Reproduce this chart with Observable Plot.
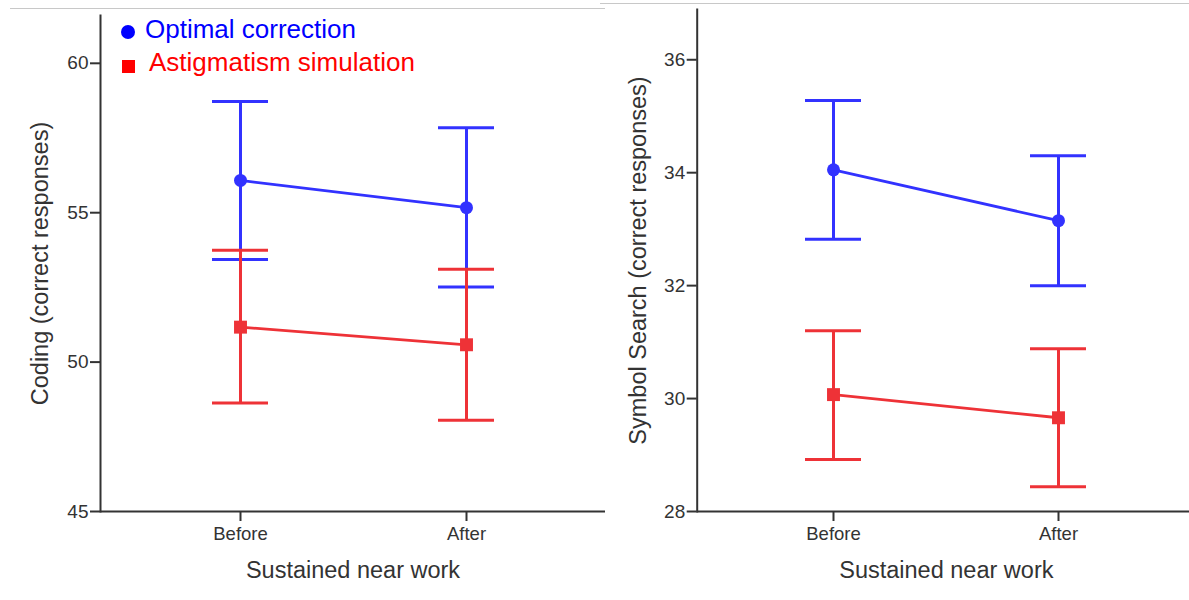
<!DOCTYPE html>
<html>
<head>
<meta charset="utf-8">
<script src="https://cdn.jsdelivr.net/npm/d3@7"></script>
<script src="https://cdn.jsdelivr.net/npm/@observablehq/plot@0.6"></script>
<style>
  html, body { margin: 0; padding: 0; background: #fff; overflow: hidden; }
  #wrap { position: relative; width: 1189px; height: 600px; overflow: hidden; font-family: "Liberation Sans", Arial, sans-serif; }
  .panel { position: absolute; top: 0; }
  .panel svg { max-width: none !important; display: block; }
  .topline { position: absolute; height: 0; border-top: 1.5px solid #c8c8c8; }
  .lg { position: absolute; font-size: 26px; line-height: 1; white-space: nowrap; }
  .sym { position: absolute; }
</style>
</head>
<body>
<div id="wrap">
  <div class="topline" style="left:10px;top:8px;width:595px"></div>
  <div class="topline" style="left:600px;top:3px;width:589px"></div>
  <div class="panel" id="left" style="left:0px;width:605px"></div>
  <div class="panel" id="right" style="left:605px;width:590px"></div>
  <div class="sym" style="left:121px;top:24.5px;width:14px;height:14px;border-radius:50%;background:#0000ff"></div>
  <div class="lg" id="lg1" style="left:145px;top:15.5px;color:#0000ff"></div>
  <div class="sym" style="left:121.5px;top:60px;width:13px;height:13px;background:#ff0000"></div>
  <div class="lg" id="lg2" style="left:149px;top:49px;color:#ff0000"></div>
</div>
<script>
// ---- data ----
const phases = ["Before", "After"];
const groups = ["Optimal correction", "Astigmatism simulation"];
const groupColors = ["#3232ff", "#ee3237"];

// Coding (correct responses): means and error bar limits
const codingOptMean = [56.08, 55.17];
const codingOptLo   = [53.43, 52.51];
const codingOptHi   = [58.72, 57.84];
const codingAstMean = [51.17, 50.58];
const codingAstLo   = [48.63, 48.05];
const codingAstHi   = [53.74, 53.11];
const codingTicks   = [45, 50, 55, 60];

// Symbol Search (correct responses)
const symbolOptMean = [34.05, 33.15];
const symbolOptLo   = [32.82, 32.00];
const symbolOptHi   = [35.28, 34.30];
const symbolAstMean = [30.07, 29.66];
const symbolAstLo   = [28.92, 28.44];
const symbolAstHi   = [31.20, 30.88];
const symbolTicks   = [28, 30, 32, 34, 36];

const xTitle = "Sustained near work";

document.getElementById("lg1").textContent = groups[0];
document.getElementById("lg2").textContent = groups[1];

function rowsFor(means, los, his) {
  return groups.map((g, gi) => phases.map((p, pi) => ({
    group: g, phase: p, mean: means[gi][pi], lo: los[gi][pi], hi: his[gi][pi]
  })));
}

function panel({series, ticks, yDomain, yLabel, width, marginLeft, marginTop, paddingInner, paddingOuter, titleDx}) {
  const axisColor = "#333";
  const marks = [
    Plot.ruleY([yDomain[0]], {stroke: axisColor, strokeWidth: 2}),
    Plot.frame({anchor: "left", stroke: axisColor, strokeWidth: 2}),
    Plot.axisY({ticks, tickSize: 10, tickPadding: 2, fontSize: 19, color: axisColor, strokeWidth: 2, label: null}),
    Plot.axisX({tickSize: 10, tickPadding: 5, fontSize: 18.5, color: axisColor, strokeWidth: 2, label: null}),
    Plot.text([yLabel], {frameAnchor: "left", textAnchor: "middle", lineAnchor: "middle", rotate: -90, dx: titleDx, fontSize: 23.5, fill: axisColor}),
    Plot.text([xTitle], {frameAnchor: "bottom", textAnchor: "middle", lineAnchor: "middle", dy: 59, fontSize: 23.5, fill: axisColor})
  ];
  series.forEach((rows, gi) => {
    const c = groupColors[gi];
    marks.push(
      Plot.ruleX(rows, {x: "phase", y1: "lo", y2: "hi", stroke: c, strokeWidth: 3}),
      Plot.tickY(rows, {x: "phase", y: "hi", stroke: c, strokeWidth: 3}),
      Plot.tickY(rows, {x: "phase", y: "lo", stroke: c, strokeWidth: 3}),
      Plot.lineY(rows, {x: "phase", y: "mean", stroke: c, strokeWidth: 2.8}),
      gi === 0
        ? Plot.dot(rows, {x: "phase", y: "mean", fill: c, stroke: "none", r: 6.5, symbol: "circle"})
        : Plot.dot(rows, {x: "phase", y: "mean", fill: c, stroke: "none", r: 7.3, symbol: "square"})
    );
  });
  return Plot.plot({
    width, height: 600,
    marginLeft, marginRight: 0, marginTop, marginBottom: 89,
    style: {background: "transparent", fontFamily: "'Liberation Sans', Arial, sans-serif", overflow: "visible", maxWidth: "none", width: width + "px", height: "600px"},
    x: {type: "band", domain: phases, paddingInner, paddingOuter, axis: null},
    y: {domain: yDomain, axis: null},
    marks
  });
}

document.getElementById("left").append(panel({
  series: rowsFor([codingOptMean, codingAstMean], [codingOptLo, codingAstLo], [codingOptHi, codingAstHi]),
  ticks: codingTicks, yDomain: [45, 61.6], yLabel: "Coding (correct responses)",
  width: 605, marginLeft: 100, marginTop: 15, paddingInner: 0.754, paddingOuter: 0.4895, titleDx: -60
}));
document.getElementById("right").append(panel({
  series: rowsFor([symbolOptMean, symbolAstMean], [symbolOptLo, symbolAstLo], [symbolOptHi, symbolAstHi]),
  ticks: symbolTicks, yDomain: [28, 36.89], yLabel: "Symbol Search (correct responses)",
  width: 590, marginLeft: 91.7, marginTop: 9, paddingInner: 0.751, paddingOuter: 0.4827, titleDx: -59
}));
</script>
</body>
</html>
